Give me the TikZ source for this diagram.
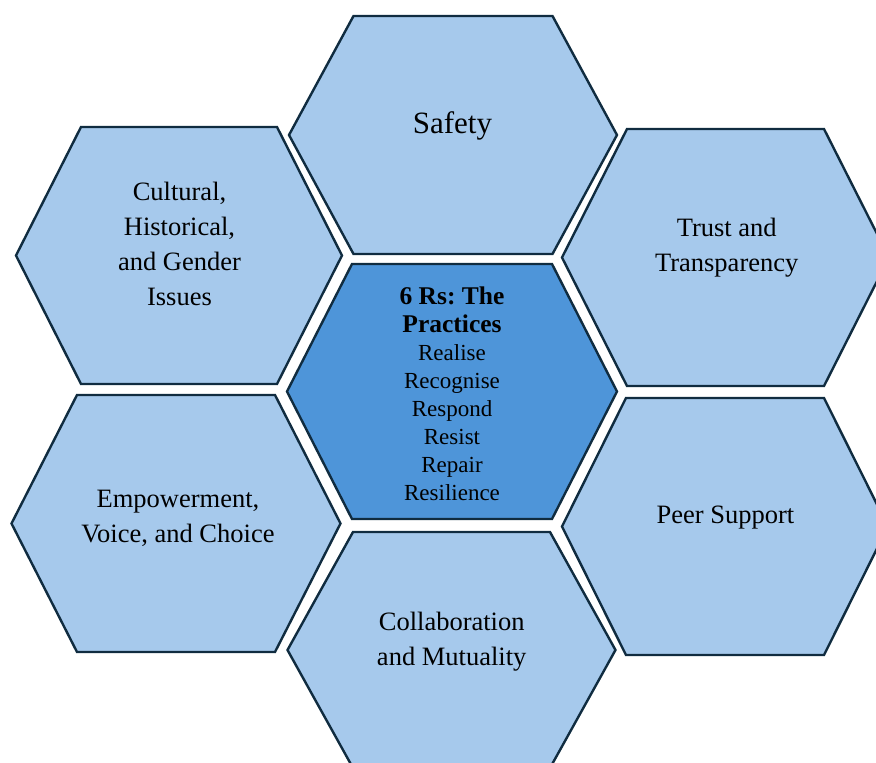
\documentclass[tikz,border=0pt]{standalone}
\usepackage{fontspec}
\setmainfont{Liberation Serif}
\frenchspacing
\definecolor{hexfill}{RGB}{166,201,236}
\definecolor{corefill}{RGB}{78,149,217}
\definecolor{hexline}{RGB}{16,44,64}
\tikzset{
  cell/.style={
    draw=hexline,
    fill=hexfill,
    line width=2.4pt,
    line join=miter
  },
  corecell/.style={cell, fill=corefill},
  hextext/.style={align=center, inner sep=0pt, font=\fontsize{26.5}{35}\selectfont}
}
% style, centre x, centre y, half width, half top edge, half height
\def\hexcell#1#2#3#4#5#6{\draw[#1, shift={(#2,#3)}] (-#4,0) -- (-#5,#6) -- (#5,#6) -- (#4,0) -- (#5,-#6) -- (-#5,-#6) -- cycle;}
\def\rhead#1{{\fontsize{25.5}{28}\selectfont\textbf{#1}}}

\begin{document}
\begin{tikzpicture}[x=1pt, y=1pt]
    \useasboundingbox (0,0) rectangle (876,763);
    \clip (0,0) rectangle (876,763);
    \hexcell{cell}{453}{628}{164}{99.5}{119}
    \hexcell{cell}{179}{507.5}{163}{98}{128.5}
    \hexcell{cell}{725.5}{505.5}{163.5}{98.5}{128.5}
    \hexcell{corecell}{452}{371.5}{165}{100}{127.5}
    \hexcell{cell}{176}{239.5}{164.5}{99}{128.5}
    \hexcell{cell}{725}{236.5}{163}{99}{128.5}
    \hexcell{cell}{451.5}{113}{164}{98.5}{118}
    \node[hextext, font=\fontsize{31}{37}\selectfont] (safety) at (452.5,637.3) {Safety};
    \node[hextext] (culture) at (179.5,519.3) {Cultural,\\Historical,\\and Gender\\Issues};
    \node[hextext] (trust) at (726.7,515) {Trust and\\Transparency};
    \node[hextext, font=\fontsize{23}{28}\selectfont] (practices) at (452,369.1) {\rhead{6 Rs: The}\\\rhead{Practices}\\Realise\\Recognise\\Respond\\Resist\\Repair\\Resilience};
    \node[hextext] (voice) at (178,244.2) {Empowerment,\\Voice, and Choice};
    \node[hextext] (peer) at (725.5,245.7) {Peer Support};
    \node[hextext] (collab) at (451.7,121.4) {Collaboration\\and Mutuality};
\end{tikzpicture}
\end{document}
